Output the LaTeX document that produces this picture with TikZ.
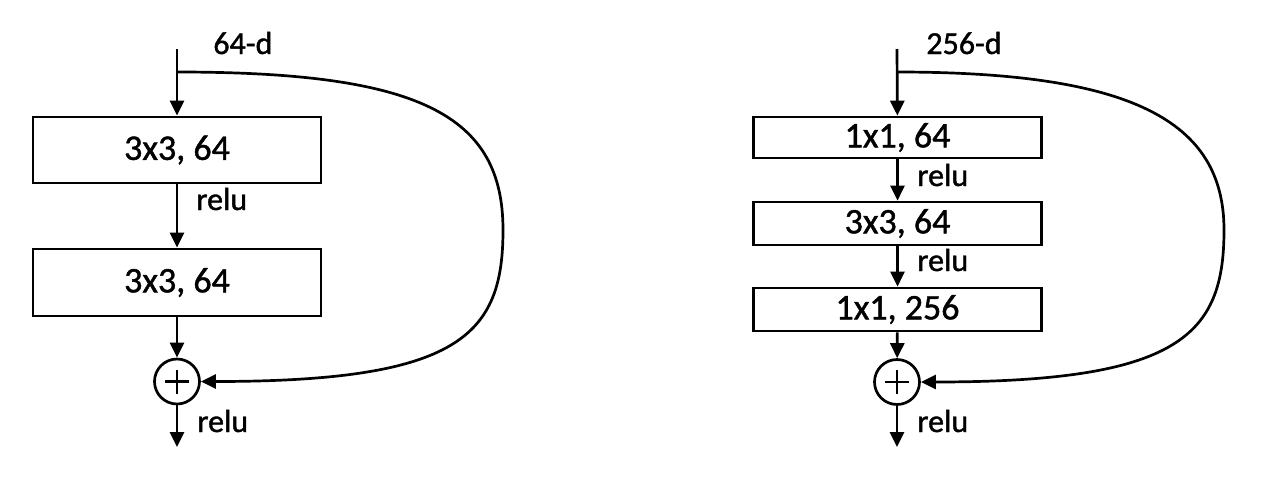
\documentclass[tikz,border=0pt]{standalone}
\usepackage{fontspec}
\setmainfont{Carlito}
\font\boxfnt="Carlito:embolden=1.2" at 36pt
\font\lblfnt="Carlito:embolden=1.2" at 32pt
\usetikzlibrary{arrows.meta}
\begin{document}
\begin{tikzpicture}[x=1pt,y=-1pt,
  line width=2.7pt,
  arr/.style={-{Triangle[length=15pt,width=14pt]}},
  layer/.style={draw,rectangle,inner sep=0pt,minimum width=288pt,font=\boxfnt},
  sumnode/.style={draw,circle,inner sep=0pt,minimum size=45pt},
  lbl/.style={anchor=base west,inner sep=0pt,font=\lblfnt}]
\useasboundingbox (0,0) rectangle (1268,496);
% ---------- left block ----------
\coordinate (inL) at (177,49);
\coordinate (brL) at (177,72);
\node[layer,minimum height=66pt] (L1) at (177,150) {3x3, 64};
\node[layer,minimum height=67pt] (L2) at (177,282.5) {3x3, 64};
\node[sumnode] (LS) at (177,381.5) {};
\coordinate (outL) at (177,447);
\coordinate (midL) at (503,230);
\draw (LS.center) ++(-12,0) -- ++(24,0);
\draw (LS.center) ++(0,-12) -- ++(0,24);
\draw[arr] (inL) -- (L1);
\draw[arr] (L1) -- (L2);
\draw[arr] (L2) -- (LS);
\draw[arr] (LS) -- (outL);
\draw[arr] (brL) .. controls (420,72) and (503,115) .. (midL)
  .. controls (503,335) and (460,381.5) .. (LS.east);
\node[lbl] (tL) at (212,54) {64-d};
\node[lbl] (rL1) at (195,210) {relu};
\node[lbl] (rL2) at (196,432) {relu};
% ---------- right block ----------
\coordinate (inR) at (897,49);
\coordinate (brR) at (897,72);
\node[layer,minimum height=41pt] (R1) at (897.5,137.5) {1x1, 64};
\node[layer,minimum height=43pt] (R2) at (897.5,223.5) {3x3, 64};
\node[layer,minimum height=43pt] (R3) at (897.5,309.5) {1x1, 256};
\node[sumnode] (RS) at (897,382) {};
\coordinate (outR) at (897,447);
\coordinate (midR) at (1224,230);
\draw (RS.center) ++(-12,0) -- ++(24,0);
\draw (RS.center) ++(0,-12) -- ++(0,24);
\draw[arr] (inR) -- (R1);
\draw[arr] (R1) -- (R2);
\draw[arr] (R2) -- (R3);
\draw[arr] (R3) -- (RS);
\draw[arr] (RS) -- (outR);
\draw[arr] (brR) .. controls (1130,72) and (1224,120) .. (midR)
  .. controls (1224,335) and (1180,382) .. (RS.east);
\node[lbl] (tR) at (925,54) {256-d};
\node[lbl] (rR1) at (916,186) {relu};
\node[lbl] (rR2) at (916,271) {relu};
\node[lbl] (rR3) at (916,432) {relu};
\end{tikzpicture}
\end{document}
